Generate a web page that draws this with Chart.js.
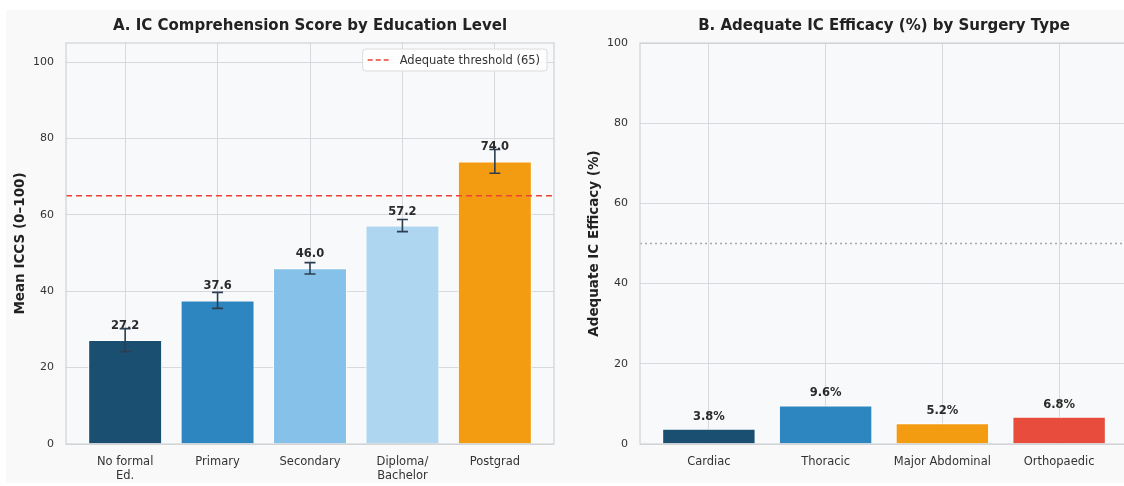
<!DOCTYPE html>
<html>
<head>
<meta charset="utf-8">
<script src="https://cdn.jsdelivr.net/npm/chart.js@4"></script>
<style>
  body { margin: 0; background: #fff; font-family: "DejaVu Sans", sans-serif; overflow: hidden; }
  #fig { position: absolute; left: 6px; top: 10px; width: 1118px; height: 473px; background: #f9f9fa; }
  .panel { position: absolute; top: 0; height: 486px; }
  #left { left: 0; width: 580px; }
  #right { left: 570px; width: 600px; }
</style>
</head>
<body>
<div id="fig"></div>
<div class="panel" id="left"><canvas id="chartA"></canvas></div>
<div class="panel" id="right"><canvas id="chartB"></canvas></div>
<script>
// panel A data
const eduLevels = [["No formal", "Ed."], "Primary", "Secondary", ["Diploma/", "Bachelor"], "Postgrad"];
const meanIccs = [27.2, 37.6, 46.0, 57.2, 74.0];
const iccsErr = [3.0, 2.1, 1.5, 1.6, 3.1];
const eduColors = ["#1b4f72", "#2e86c1", "#85c1e9", "#aed6f1", "#f39c12"];
const thresholdA = 65;

// panel B data
const surgeryTypes = ["Cardiac", "Thoracic", "Major Abdominal", "Orthopaedic"];
const efficacyPct = [3.8, 9.6, 5.2, 6.8];
const surgeryColors = ["#1b4f72", "#2e86c1", "#f39c12", "#e74c3c"];
const refLineB = 50;

Chart.defaults.font.family = "'DejaVu Sans', sans-serif";
Chart.defaults.color = "#333";

const gridColor = "#d6d9dd";

// plot background + frame
const frame = {
  id: "frame",
  beforeDraw(chart) {
    const { ctx, chartArea: a } = chart;
    ctx.save();
    ctx.fillStyle = "#f8f9fa";
    ctx.fillRect(a.left, a.top, a.right - a.left, a.bottom - a.top);
    ctx.restore();
  },
  afterDraw(chart) {
    const { ctx, chartArea: a } = chart;
    ctx.save();
    ctx.strokeStyle = "#cfd2d6";
    ctx.lineWidth = 1.2;
    ctx.strokeRect(a.left, a.top, a.right - a.left, a.bottom - a.top);
    ctx.restore();
  }
};

// horizontal reference line
function refLine(value, color, dash, width) {
  return {
    id: "ref" + value,
    afterDatasetsDraw(chart) {
      const { ctx, chartArea: a, scales } = chart;
      const y = scales.y.getPixelForValue(value);
      ctx.save();
      ctx.strokeStyle = color;
      ctx.lineWidth = width;
      ctx.setLineDash(dash);
      ctx.beginPath();
      ctx.moveTo(a.left, y);
      ctx.lineTo(a.right, y);
      ctx.stroke();
      ctx.restore();
    }
  };
}

// value labels (+ optional error bars)
function barExtras(values, errs, suffix) {
  return {
    id: "extras",
    afterDatasetsDraw(chart) {
      const { ctx, scales } = chart;
      const meta = chart.getDatasetMeta(0);
      ctx.save();
      meta.data.forEach((bar, i) => {
        const top = scales.y.getPixelForValue(values[i]);
        ctx.fillStyle = "#2b2b2b";
        ctx.font = "bold 11.5px 'DejaVu Sans'";
        ctx.textAlign = "center";
        ctx.textBaseline = "middle";
        ctx.fillText(values[i].toFixed(1) + suffix, bar.x, top - (errs ? 14 : 12));
      });
      if (errs) {
        ctx.strokeStyle = "#2c3e50";
        ctx.lineWidth = 1.6;
        meta.data.forEach((bar, i) => {
          const hi = scales.y.getPixelForValue(values[i] + errs[i]);
          const lo = scales.y.getPixelForValue(values[i] - errs[i]);
          ctx.beginPath();
          ctx.moveTo(bar.x, hi); ctx.lineTo(bar.x, lo);
          ctx.moveTo(bar.x - 5.5, hi); ctx.lineTo(bar.x + 5.5, hi);
          ctx.moveTo(bar.x - 5.5, lo); ctx.lineTo(bar.x + 5.5, lo);
          ctx.stroke();
        });
      }
      ctx.restore();
    }
  };
}

// legend box for threshold, top right inside plot
const thresholdLegend = {
  id: "thrLegend",
  afterDraw(chart) {
    const { ctx, chartArea: a } = chart;
    const text = "Adequate threshold (" + thresholdA + ")";
    ctx.save();
    ctx.font = "11.5px 'DejaVu Sans'";
    const w = ctx.measureText(text).width + 44;
    const h = 22;
    const x = a.right - w - 7, y = a.top + 6;
    ctx.fillStyle = "rgba(255,255,255,0.85)";
    ctx.strokeStyle = "#dcdcdc";
    ctx.lineWidth = 1;
    ctx.beginPath();
    ctx.roundRect(x, y, w, h, 3);
    ctx.fill(); ctx.stroke();
    ctx.strokeStyle = "#ef4136";
    ctx.lineWidth = 1.5;
    ctx.setLineDash([5, 3]);
    ctx.beginPath();
    ctx.moveTo(x + 5, y + h / 2); ctx.lineTo(x + 28, y + h / 2);
    ctx.stroke();
    ctx.setLineDash([]);
    ctx.fillStyle = "#333";
    ctx.textBaseline = "middle";
    ctx.fillText(text, x + 37, y + h / 2 + 1);
    ctx.restore();
  }
};

function baseOptions(title, yTitle, yMax, labels, xMin, xMax, pad, yWidth, yTitleOff) {
  return {
    responsive: true,
    maintainAspectRatio: false,
    animation: false,
    layout: { padding: pad },
    plugins: {
      legend: { display: false },
      tooltip: { enabled: false },
      title: {
        display: true, text: title, color: "#222", fullSize: false,
        font: { size: 15, weight: "bold" },
        padding: { top: 1, bottom: 8 }
      }
    },
    scales: {
      x: {
        type: "linear", min: xMin, max: xMax, offset: false,
        grid: { color: gridColor, offset: false, drawTicks: false },
        border: { display: false },
        afterFit: s => { s.height = 42; },
        ticks: {
          stepSize: 1, includeBounds: false, autoSkip: false,
          color: "#333", font: { size: 11.5 }, padding: 11, maxRotation: 0,
          callback: v => labels[v]
        }
      },
      y: {
        min: 0, max: yMax,
        grid: { color: gridColor, drawTicks: false },
        border: { display: false },
        afterFit: s => { s.width = yWidth; },
        ticks: { stepSize: 20, includeBounds: false, color: "#333", font: { size: 11 }, padding: 12 },
        title: { display: true, text: yTitle, color: "#222", font: { size: 13.5, weight: "bold" }, padding: { top: yTitleOff, bottom: 6 } }
      }
    }
  };
}

new Chart(document.getElementById("chartA"), {
  type: "bar",
  data: {
    datasets: [{
      data: meanIccs.map((v, i) => ({ x: i, y: v })),
      backgroundColor: eduColors,
      borderColor: "#ffffff",
      borderWidth: 1,
      categoryPercentage: 1,
      barPercentage: 0.8
    }]
  },
  options: baseOptions("A. IC Comprehension Score by Education Level", "Mean ICCS (0\u2013100)", 105,
    eduLevels, -0.64, 4.64, { left: 6, right: 26, top: 16, bottom: 0 }, 60, 6),
  plugins: [frame, refLine(thresholdA, "#ef4136", [6, 4], 1.5), barExtras(meanIccs, iccsErr, ""), thresholdLegend]
});

new Chart(document.getElementById("chartB"), {
  type: "bar",
  data: {
    datasets: [{
      data: efficacyPct.map((v, i) => ({ x: i, y: v })),
      backgroundColor: surgeryColors,
      borderColor: "#ffffff",
      borderWidth: 1,
      categoryPercentage: 1,
      barPercentage: 0.8
    }]
  },
  options: baseOptions("B. Adequate IC Efficacy (%) by Surgery Type", "Adequate IC Efficacy (%)", 100,
    surgeryTypes, -0.59, 3.59, { left: 4, right: 42, top: 16, bottom: 0 }, 66, 12),
  plugins: [frame, refLine(refLineB, "#a9a9a9", [2, 3], 1.3), barExtras(efficacyPct, null, "%")]
});
</script>
</body>
</html>
